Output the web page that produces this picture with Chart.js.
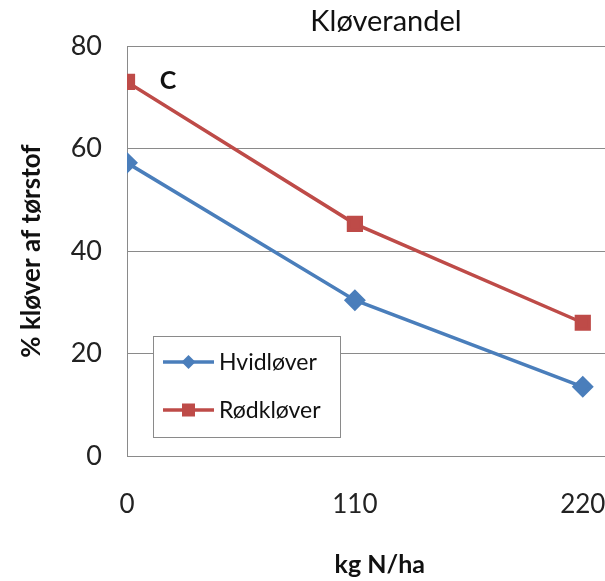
<!DOCTYPE html>
<html><head><meta charset="utf-8">
<script src="https://cdn.jsdelivr.net/npm/chart.js@4"></script>
<style>html,body{margin:0;padding:0;background:#fff;overflow:hidden;width:605px;height:581px}</style>
</head><body>
<canvas id="c" width="645" height="581"></canvas>
<script>
const categories = [0, 110, 220];
const xTickLabels = [0, 110, 220];
const yTickLabels = [0, 20, 40, 60, 80];
const hvidlover = [57.2, 30.4, 13.5];
const rodklover = [73.0, 45.3, 26.0];
const seriesNames = ['Hvidløver', 'Rødkløver'];
const chartTitle = 'Kløverandel';
const panelLabel = 'C';
const xTitle = 'kg N/ha';
const yTitle = '% kløver af tørstof';

const FONT = 'Lato, "Open Sans", sans-serif';
const BLUE = '#4A7EBB', RED = '#BE4B48', GRID = '#8a8a8a';

const overlay = {
  id: 'overlay',
  afterDraw(chart) {
    const ctx = chart.ctx;
    ctx.save();
    ctx.fillStyle = '#111';
    ctx.textAlign = 'center'; ctx.textBaseline = 'middle';
    ctx.font = '29px ' + FONT;
    ctx.fillText(chartTitle, 386, 22);
    ctx.font = 'bold 25px ' + FONT;
    ctx.fillText(panelLabel, 168, 81);
    // legend
    const bx = 153.5, by = 336.5, bw = 187, bh = 101;
    ctx.fillStyle = '#fff';
    ctx.fillRect(bx, by, bw, bh);
    ctx.strokeStyle = GRID; ctx.lineWidth = 1;
    ctx.strokeRect(bx, by, bw, bh);
    const rows = [362, 410];
    chart.data.datasets.forEach((ds, i) => {
      const y = rows[i];
      ctx.strokeStyle = ds.borderColor; ctx.lineWidth = 3.5;
      ctx.beginPath(); ctx.moveTo(163, y); ctx.lineTo(214, y); ctx.stroke();
      ctx.fillStyle = ds.backgroundColor;
      if (ds.pointStyle === 'rectRot') {
        ctx.beginPath(); ctx.moveTo(188.5, y - 7); ctx.lineTo(195.5, y); ctx.lineTo(188.5, y + 7); ctx.lineTo(181.5, y); ctx.closePath(); ctx.fill();
      } else {
        ctx.fillRect(182, y - 6.5, 13, 13);
      }
      ctx.fillStyle = '#111'; ctx.textAlign = 'left';
      ctx.font = '23px ' + FONT;
      ctx.fillText(ds.label, 219, y + 1);
    });
    ctx.restore();
  }
};

new Chart(document.getElementById('c'), {
  type: 'scatter',
  data: {
    datasets: [
      { label: seriesNames[0], data: categories.map((x, i) => ({ x, y: hvidlover[i] })), showLine: true,
        borderColor: BLUE, backgroundColor: BLUE, borderWidth: 3.5, pointStyle: 'rectRot', pointRadius: 8.5, pointHoverRadius: 8.5 },
      { label: seriesNames[1], data: categories.map((x, i) => ({ x, y: rodklover[i] })), showLine: true,
        borderColor: RED, backgroundColor: RED, borderWidth: 3.5, pointStyle: 'rect', pointRadius: 9, pointHoverRadius: 9 }
    ]
  },
  options: {
    responsive: false, animation: false,
    layout: { padding: { top: 46, right: 0, left: 0, bottom: 0 } },
    plugins: { legend: { display: false }, title: { display: false }, tooltip: { enabled: false } },
    scales: {
      x: {
        type: 'linear', min: 0, max: 244,
        afterBuildTicks(s) { s.ticks = xTickLabels.map(v => ({ value: v })); },
        afterFit(s) { s.height = 125; },
        grid: { display: false, drawTicks: false },
        border: { display: true, color: GRID },
        ticks: { padding: 33, color: '#222', font: { family: FONT, size: 26 } },
        title: { display: true, text: xTitle, color: '#111', font: { family: FONT, size: 25, weight: 'bold' }, padding: { top: 10, bottom: 1 } }
      },
      y: {
        min: 0, max: 80,
        afterBuildTicks(s) { s.ticks = yTickLabels.map(v => ({ value: v })); },
        afterFit(s) { s.width = 127; },
        grid: { color: GRID, drawTicks: false, lineWidth: 1 },
        border: { display: true, color: GRID },
        ticks: { padding: 25, color: '#222', font: { family: FONT, size: 27 } },
        title: { display: true, text: yTitle, color: '#111', font: { family: FONT, size: 26, weight: 'bold' }, padding: { top: 16, bottom: 0 } }
      }
    }
  },
  plugins: [overlay]
});
</script>
</body></html>
